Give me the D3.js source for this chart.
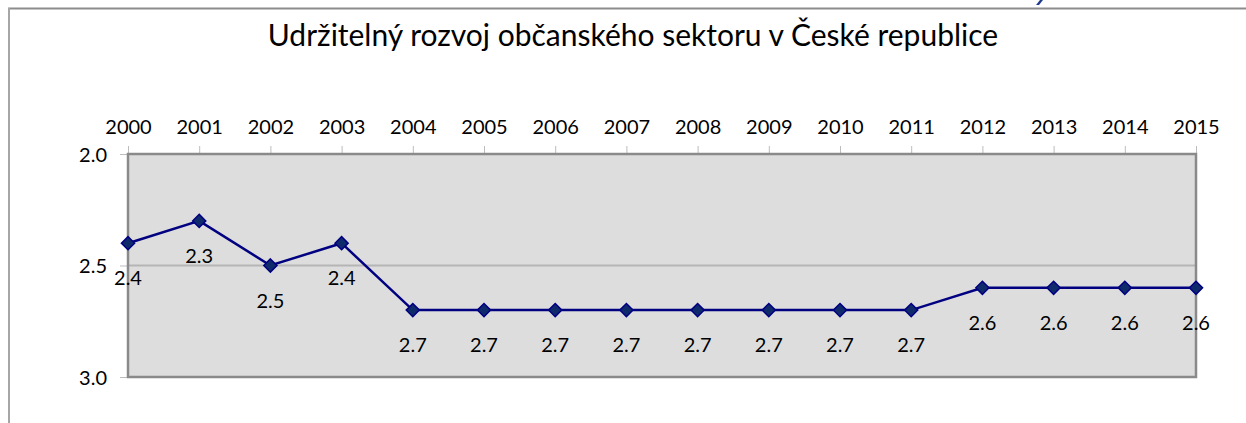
<!DOCTYPE html>
<html>
<head>
<meta charset="utf-8">
<script src="https://cdn.jsdelivr.net/npm/d3@7"></script>
<style>
  body { margin: 0; background: #fff; }
  svg { display: block; font-family: Lato, "Open Sans", sans-serif; }
</style>
</head>
<body>
<script>
// Data
const years = ["2000", "2001", "2002", "2003", "2004", "2005", "2006", "2007",
               "2008", "2009", "2010", "2011", "2012", "2013", "2014", "2015"];
const scores = [2.4, 2.3, 2.5, 2.4, 2.7, 2.7, 2.7, 2.7, 2.7, 2.7, 2.7, 2.7, 2.6, 2.6, 2.6, 2.6];
const yTicks = [2.0, 2.5, 3.0];
const title = "Udržitelný rozvoj občanského sektoru v České republice";

let width = 1246, height = 423;

let margin = { top: 154, bottom: 46, left: 128, right: 50 };

let svg = d3.select('body')
    .append('svg')
    .attr('width', width)
    .attr('height', height);

// chart frame (cut off at right/bottom)
svg.append('line')
    .attr('x1', 8).attr('x2', width).attr('y1', 8.5).attr('y2', 8.5)
    .attr('stroke', '#8c8c8c').attr('stroke-width', 2);
svg.append('line')
    .attr('x1', 9).attr('x2', 9).attr('y1', 8).attr('y2', height)
    .attr('stroke', '#a6a6a6').attr('stroke-width', 2);

// tail of the blue heading above the chart, cut off by the window
svg.append('path')
    .attr('d', 'M1040,0 L1043,0 L1039,5 L1036,5 Z')
    .attr('fill', '#1f3b8c');

// Scales
let xScale = d3.scalePoint()
    .domain(years)
    .range([margin.left, width - margin.right]);

let yScale = d3.scaleLinear()
    .domain([2.0, 3.0])
    .range([margin.top, height - margin.bottom]);

// Plot area
svg.append('rect')
    .attr('x', margin.left)
    .attr('y', margin.top)
    .attr('width', width - margin.right - margin.left)
    .attr('height', height - margin.bottom - margin.top)
    .attr('fill', '#dddddd');

// gridline
svg.append('g')
    .selectAll('line')
    .data(yTicks.slice(1, -1))
    .enter()
    .append('line')
    .attr('x1', margin.left).attr('x2', width - margin.right)
    .attr('y1', d => yScale(d)).attr('y2', d => yScale(d))
    .attr('stroke', '#b5b5b5').attr('stroke-width', 2);

// Axes
let xAxis = svg.append('g')
    .attr('transform', `translate(0, ${margin.top})`)
    .call(d3.axisTop(xScale).tickSize(8).tickPadding(12));

let yAxis = svg.append('g')
    .attr('transform', `translate(${margin.left}, 0)`)
    .call(d3.axisLeft(yScale).tickValues(yTicks).tickFormat(d3.format('.1f')).tickSize(8).tickPadding(13));

[xAxis, yAxis].forEach(ax => {
  ax.select('.domain').remove();
  ax.selectAll('.tick line').attr('stroke', '#bdbdbd');
  ax.selectAll('.tick text')
    .attr('fill', '#000')
    .style('font-size', '20px')
    .style('font-family', 'Lato, sans-serif');
});
yAxis.selectAll('.tick text').attr('dy', '0.35em');

// Plot border
svg.append('rect')
    .attr('x', margin.left)
    .attr('y', margin.top)
    .attr('width', width - margin.right - margin.left)
    .attr('height', height - margin.bottom - margin.top)
    .attr('fill', 'none')
    .attr('stroke', '#8a8a8a')
    .attr('stroke-width', 2.5);

// Line
let line = d3.line()
    .x((d, i) => xScale(years[i]))
    .y(d => yScale(d));

svg.append('path')
    .datum(scores)
    .attr('d', line)
    .attr('fill', 'none')
    .attr('stroke', '#000080')
    .attr('stroke-width', 2.5);

// Markers
svg.selectAll('.marker')
    .data(scores)
    .enter()
    .append('path')
    .attr('class', 'marker')
    .attr('d', d3.symbol().type(d3.symbolDiamond2).size(110))
    .attr('transform', (d, i) => `translate(${xScale(years[i])}, ${yScale(d)})`)
    .attr('fill', '#0f2a6b')
    .attr('stroke', '#000080')
    .attr('stroke-width', 1.5);

// Data labels
svg.selectAll('.label')
    .data(scores)
    .enter()
    .append('text')
    .attr('class', 'label')
    .attr('x', (d, i) => xScale(years[i]))
    .attr('y', d => yScale(d) + 42)
    .attr('text-anchor', 'middle')
    .style('font-size', '20px')
    .attr('fill', '#000')
    .text(d => d3.format('.1f')(d));

// Title
svg.append('text')
    .attr('x', 633)
    .attr('y', 46)
    .attr('text-anchor', 'middle')
    .style('font-size', '30px')
    .attr('fill', '#000')
    .text(title);
</script>
</body>
</html>
